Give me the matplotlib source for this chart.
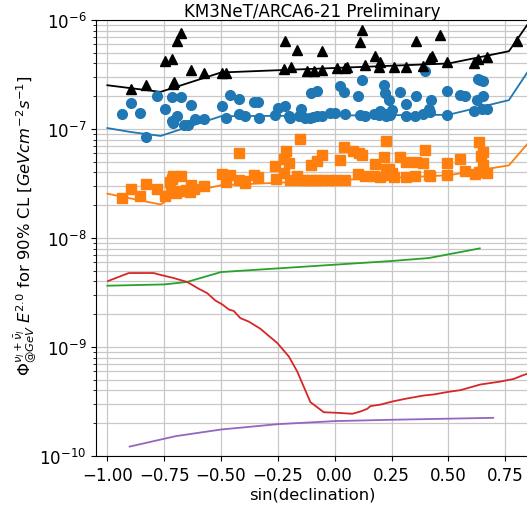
import matplotlib
matplotlib.use("Agg")
import matplotlib.pyplot as plt

# sensitivity curves (nodes in sin(declination))
sens_x_black = [-1.0, -0.766, -0.5, 0.5, 0.766, 1.0]
sens_black = [2.52e-7, 2.19e-7, 3.30e-7, 3.99e-7, 5.17e-7, 2.6e-6]
sens_x_blue = [-1.0, -0.9, -0.766, -0.5, 0.5, 0.766, 1.0]
sens_blue = [1.02e-7, 9.4e-8, 8.64e-8, 1.31e-7, 1.35e-7, 1.84e-7, 1.0e-6]
sens_x_orange = [-1.0, -0.766, -0.707, -0.5, 0.5, 0.766, 1.0]
sens_orange = [2.55e-8, 2.03e-8, 2.46e-8, 3.05e-8, 3.76e-8, 4.64e-8, 1.7e-7]

green_x = [-1.0, -0.75, -0.65, -0.5, 0.0, 0.25, 0.414, 0.638]
green_y = [3.65e-9, 3.75e-9, 3.95e-9, 4.87e-9, 5.69e-9, 6.15e-9, 6.55e-9, 8.03e-9]

purple_x = [-0.902, -0.70, -0.5, -0.25, 0.0, 0.25, 0.697]
purple_y = [1.22e-10, 1.52e-10, 1.75e-10, 1.96e-10, 2.09e-10, 2.15e-10, 2.24e-10]

red_x = [-0.997, -0.906, -0.796, -0.774, -0.708, -0.649, -0.598, -0.561, -0.525,
         -0.495, -0.466, -0.444, -0.415, -0.378, -0.327, -0.297, -0.253, -0.202,
         -0.165, -0.107, -0.048, 0.010, 0.077, 0.113, 0.143, 0.157, 0.201, 0.253,
         0.311, 0.392, 0.436, 0.494, 0.553, 0.641, 0.729, 0.788, 0.824, 0.9]
red_y = [4.03e-9, 4.77e-9, 4.77e-9, 4.63e-9, 4.29e-9, 3.95e-9, 3.42e-9, 3.12e-9, 2.67e-9,
         2.46e-9, 2.21e-9, 2.14e-9, 1.84e-9, 1.71e-9, 1.47e-9, 1.30e-9, 1.09e-9, 8.19e-10,
         5.96e-10, 3.12e-10, 2.52e-10, 2.49e-10, 2.44e-10, 2.56e-10, 2.71e-10, 2.87e-10,
         2.96e-10, 3.16e-10, 3.35e-10, 3.59e-10, 3.67e-10, 3.86e-10, 4.02e-10, 4.53e-10,
         4.82e-10, 5.10e-10, 5.47e-10, 6.2e-10]

# per-source upper limits
tri_x = [-0.897, -0.828, -0.748, -0.717, -0.692, -0.676, -0.710, -0.705, -0.632, -0.576,
         -0.497, -0.478, -0.217, -0.164, -0.055, -0.224, -0.194, -0.123, -0.092, -0.057,
         0.009, 0.044, 0.055, 0.122, 0.110, 0.131, 0.176, 0.201, 0.194, 0.260, 0.315,
         0.359, 0.387, 0.421, 0.427, 0.462, 0.494, 0.612, 0.629, 0.670, 0.802]
tri_y = [2.35e-7, 2.56e-7, 4.19e-7, 4.37e-7, 6.38e-7, 7.56e-7, 2.60e-7, 2.7e-7, 3.51e-7, 3.29e-7,
         3.27e-7, 3.27e-7, 6.44e-7, 5.36e-7, 5.18e-7, 3.53e-7, 3.69e-7, 3.44e-7, 3.44e-7, 3.46e-7,
         3.66e-7, 3.64e-7, 3.69e-7, 8.13e-7, 6.31e-7, 3.85e-7, 4.66e-7, 4.13e-7, 3.69e-7, 3.72e-7, 3.72e-7,
         6.38e-7, 3.79e-7, 4.50e-7, 4.69e-7, 7.36e-7, 4.13e-7, 4.04e-7, 4.43e-7, 4.53e-7, 6.38e-7]

circ_x = [-0.934, -0.897, -0.858, -0.828, -0.781, -0.746, -0.717, -0.676, -0.717, -0.711,
          -0.692, -0.634, -0.664, -0.645, -0.616, -0.576, -0.495, -0.462, -0.422, -0.477,
          -0.421, -0.396, -0.353, -0.339, -0.334, -0.261, -0.251, -0.217, -0.202, -0.195,
          -0.147, -0.158, -0.129, -0.110, -0.095, -0.078, -0.055, -0.104, -0.078, -0.022,
          0.0, 0.047, 0.022, 0.040, 0.103, 0.122, 0.109, 0.132, 0.172, 0.194, 0.201, 0.226,
          0.245, 0.216, 0.220, 0.238, 0.396, 0.289, 0.253, 0.238, 0.227, 0.314, 0.314,
          0.355, 0.387, 0.359, 0.414, 0.421, 0.425, 0.494, 0.494, 0.549, 0.575, 0.631,
          0.641, 0.651, 0.626, 0.651, 0.612, 0.648, 0.670]
circ_y = [1.38e-7, 1.75e-7, 1.41e-7, 8.51e-8, 2.00e-7, 1.54e-7, 1.98e-7, 1.98e-7, 1.18e-7, 1.14e-7,
          1.31e-7, 1.65e-7, 1.08e-7, 1.08e-7, 1.24e-7, 1.24e-7, 1.62e-7, 2.03e-7, 1.89e-7, 1.25e-7,
          1.38e-7, 1.32e-7, 1.78e-7, 1.78e-7, 1.27e-7, 1.34e-7, 1.56e-7, 1.63e-7, 1.32e-7, 1.27e-7,
          1.52e-7, 1.32e-7, 1.27e-7, 1.26e-7, 1.28e-7, 1.31e-7, 1.32e-7, 2.16e-7, 2.22e-7, 1.41e-7,
          1.41e-7, 1.36e-7, 2.49e-7, 2.19e-7, 2.01e-7, 2.80e-7, 1.34e-7, 1.32e-7, 1.36e-7, 1.34e-7, 1.47e-7, 1.38e-7,
          1.34e-7, 2.56e-7, 2.16e-7, 1.84e-7, 3.41e-7, 2.19e-7, 1.49e-7, 1.38e-7, 1.32e-7, 1.71e-7, 1.32e-7,
          1.32e-7, 1.36e-7, 1.99e-7, 1.54e-7, 1.44e-7, 1.86e-7, 2.22e-7, 1.35e-7, 2.07e-7, 2.01e-7, 2.90e-7,
          2.80e-7, 2.74e-7, 1.86e-7, 2.01e-7, 1.46e-7, 1.52e-7, 1.52e-7]

sq_x = [-0.934, -0.897, -0.858, -0.828, -0.781, -0.748, -0.718, -0.696, -0.675, -0.656,
        -0.638, -0.620, -0.634, -0.723, -0.711, -0.674, -0.717, -0.576, -0.497, -0.462,
        -0.480, -0.421, -0.421, -0.396, -0.393, -0.353, -0.339, -0.258, -0.261, -0.224,
        -0.214, -0.202, -0.221, -0.195, -0.165, -0.147, -0.121, -0.103, -0.078, -0.055,
        -0.151, -0.104, -0.078, -0.055, -0.022, 0.0, 0.047, 0.022, 0.040, 0.081, 0.106,
        0.121, 0.103, 0.132, 0.172, 0.201, 0.231, 0.179, 0.216, 0.226, 0.226, 0.238,
        0.250, 0.260, 0.289, 0.314, 0.314, 0.355, 0.421, 0.494, 0.359, 0.387, 0.395,
        0.414, 0.494, 0.549, 0.575, 0.634, 0.651, 0.645, 0.651, 0.616, 0.634, 0.651, 0.670]
sq_y = [2.33e-8, 2.84e-8, 2.41e-8, 3.13e-8, 2.79e-8, 2.43e-8, 2.64e-8, 2.59e-8, 2.68e-8, 2.78e-8,
        2.64e-8, 2.79e-8, 3.04e-8, 3.27e-8, 3.68e-8, 3.68e-8, 3.50e-8, 2.98e-8, 3.89e-8, 3.81e-8,
        3.27e-8, 5.98e-8, 3.38e-8, 3.20e-8, 3.31e-8, 3.76e-8, 3.63e-8, 3.45e-8, 4.54e-8, 5.27e-8,
        6.29e-8, 4.89e-8, 3.98e-8, 3.38e-8, 3.71e-8, 3.38e-8, 3.38e-8, 3.38e-8, 3.40e-8, 3.43e-8,
        8.17e-8, 4.63e-8, 5.09e-8, 5.74e-8, 3.43e-8, 3.43e-8, 3.43e-8, 5.24e-8, 6.86e-8, 6.29e-8, 6.07e-8,
        5.74e-8, 3.89e-8, 3.71e-8, 3.71e-8, 3.63e-8, 3.76e-8, 4.80e-8, 5.55e-8, 7.70e-8, 4.26e-8, 4.33e-8,
        3.98e-8, 3.63e-8, 5.55e-8, 4.99e-8, 3.63e-8, 3.71e-8, 3.71e-8, 3.76e-8, 4.99e-8, 4.89e-8, 6.37e-8,
        3.81e-8, 4.92e-8, 5.35e-8, 4.09e-8, 7.62e-8, 6.17e-8, 5.61e-8, 4.71e-8, 3.89e-8, 4.04e-8, 4.09e-8, 3.98e-8]

plt.rcParams['font.size'] = 12
fig = plt.figure(figsize=(5.27, 5.06), dpi=100)
ax = fig.add_axes([96 / 527, 49 / 506, 432 / 527, 436 / 506])

ax.plot(sens_x_black, sens_black, color='black', lw=1.3)
ax.plot(sens_x_blue, sens_blue, color='tab:blue', lw=1.3)
ax.plot(sens_x_orange, sens_orange, color='tab:orange', lw=1.3)
ax.plot(green_x, green_y, color='tab:green', lw=1.3)
ax.plot(red_x, red_y, color='tab:red', lw=1.3)
ax.plot(purple_x, purple_y, color='tab:purple', lw=1.3)

ax.plot(circ_x, circ_y, 'o', color='tab:blue', ms=7, ls='none')
ax.plot(sq_x, sq_y, 's', color='tab:orange', ms=6.5, ls='none')
ax.plot(tri_x, tri_y, '^', color='black', ms=7, ls='none')

ax.set_yscale('log')
ax.set_xlim(-1.05, 0.85)
ax.set_ylim(1e-10, 1e-6)
ax.set_xticks([-1.0, -0.75, -0.5, -0.25, 0.0, 0.25, 0.5, 0.75])
ax.tick_params(labelsize=12)
ax.grid(True, which='major', color='#c8c8c8', lw=0.9)
ax.grid(True, which='minor', axis='y', color='#c8c8c8', lw=0.9)

ax.set_xlabel('sin(declination)', fontsize=11.8, labelpad=2)
ax.set_ylabel(r'$\Phi^{\nu_l+\bar{\nu}_l}_{@GeV}\;E^{2.0}$ for 90% CL [$GeV cm^{-2} s^{-1}$]',
              fontsize=11.8, labelpad=3)
ax.yaxis.set_label_coords(-0.135, 0.53)
ax.set_title('KM3NeT/ARCA6-21 Preliminary', fontsize=12, pad=3)

fig.savefig('out.png', dpi=100)
